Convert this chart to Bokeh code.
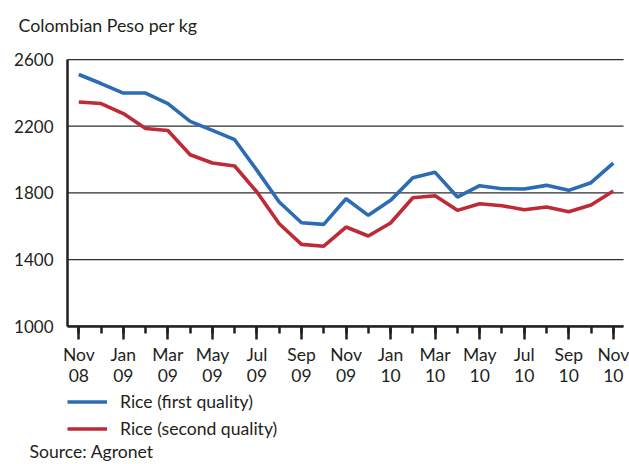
from bokeh.plotting import figure
from bokeh.models import FixedTicker, Label, Legend, LegendItem
from bokeh.embed import file_html
from bokeh.resources import INLINE

months = ["Nov 08", "Dec 08", "Jan 09", "Feb 09", "Mar 09", "Apr 09", "May 09",
          "Jun 09", "Jul 09", "Aug 09", "Sep 09", "Oct 09", "Nov 09", "Dec 09",
          "Jan 10", "Feb 10", "Mar 10", "Apr 10", "May 10", "Jun 10", "Jul 10",
          "Aug 10", "Sep 10", "Oct 10", "Nov 10"]
rice_first = [2510, 2456, 2399, 2399, 2336, 2229, 2175, 2119, 1935, 1745, 1621,
              1611, 1765, 1665, 1755, 1891, 1923, 1775, 1843, 1825, 1823, 1845,
              1815, 1861, 1979]
rice_second = [2345, 2336, 2276, 2186, 2174, 2029, 1979, 1961, 1805, 1615, 1491,
               1480, 1595, 1541, 1619, 1771, 1783, 1695, 1735, 1723, 1699, 1715,
               1687, 1727, 1811]
y_ticks = [1000, 1400, 1800, 2200, 2600]
tick_labels = ["Nov\n08", "Jan\n09", "Mar\n09", "May\n09", "Jul\n09", "Sep\n09",
               "Nov\n09", "Jan\n10", "Mar\n10", "May\n10", "Jul\n10", "Sep\n10",
               "Nov\n10"]

FONT = "Lato"
FS = "17px"
TXT = "#231f20"
xs = list(range(len(months)))

# plotting area limits (in data units) of the original chart box
X_LO, X_HI = -0.507, 24.46
Y_LO, Y_HI = 1000, 2600

# the frame covers the whole canvas; the axes are pinned to the chart box
p = figure(width=629, height=464, x_range=(-3.516, 24.728), y_range=(170.2, 2954.2),
           output_backend="svg", toolbar_location=None,
           min_border_left=0, min_border_right=0, min_border_top=0,
           min_border_bottom=0)
p.outline_line_color = None
p.xgrid.grid_line_color = None
p.ygrid.grid_line_color = None

# horizontal grid lines across the chart box
p.segment(x0=[X_LO] * len(y_ticks), x1=[X_HI] * len(y_ticks), y0=y_ticks, y1=y_ticks,
          line_color="#2e2e2e", line_width=1.3)

# y axis
ya = p.yaxis[0]
ya.fixed_location = X_LO
ya.bounds = (Y_LO, Y_HI)
ya.ticker = FixedTicker(ticks=y_ticks)
ya.axis_line_color = TXT
ya.axis_line_width = 2.5
ya.major_tick_line_color = None
ya.minor_tick_line_color = None
ya.major_label_text_font = FONT
ya.major_label_text_font_size = FS
ya.major_label_text_color = TXT
ya.major_label_standoff = 8

# x axis
major = list(range(0, len(months), 2))
xa = p.xaxis[0]
xa.fixed_location = Y_LO
xa.bounds = (X_LO, X_HI)
xa.ticker = FixedTicker(ticks=major, minor_ticks=xs)
xa.major_label_overrides = {m: lab for m, lab in zip(major, tick_labels)}
xa.axis_line_color = TXT
xa.axis_line_width = 2.5
xa.major_tick_line_color = TXT
xa.major_tick_line_width = 2.5
xa.major_tick_out = 13
xa.major_tick_in = 0
xa.minor_tick_line_color = TXT
xa.minor_tick_line_width = 2.5
xa.minor_tick_out = 7
xa.minor_tick_in = 0
xa.major_label_text_font = FONT
xa.major_label_text_font_size = "17.5px"
xa.major_label_text_color = TXT
xa.major_label_text_line_height = 1.0
xa.major_label_standoff = 5

r1 = p.line(xs, rice_first, line_color="#2b6cb5", line_width=3.6)
r2 = p.line(xs, rice_second, line_color="#be2a35", line_width=3.6)

legend = Legend(items=[LegendItem(label="Rice (first quality)", renderers=[r1]),
                       LegendItem(label="Rice (second quality)", renderers=[r2])],
                location=(67, 22.5), orientation="vertical",
                padding=0, margin=0, spacing=0,
                glyph_width=40, glyph_height=27, label_height=27,
                label_standoff=13, border_line_color=None,
                background_fill_alpha=0,
                label_text_font=FONT, label_text_font_size="17.6px",
                label_text_color=TXT)
p.add_layout(legend, "center")

p.add_layout(Label(x=18, y=440, x_units="screen", y_units="screen",
                   text="Colombian Peso per kg", text_font=FONT,
                   text_font_size="17.8px", text_color=TXT,
                   text_baseline="alphabetic"))
p.add_layout(Label(x=29, y=13, x_units="screen", y_units="screen",
                   text="Source: Agronet", text_font=FONT,
                   text_font_size="17.6px", text_color=TXT,
                   text_baseline="alphabetic"))

open("out.html", "w").write(file_html(p, INLINE))
